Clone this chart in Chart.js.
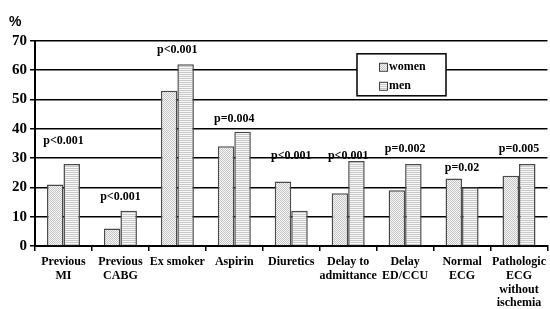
<!DOCTYPE html>
<html>
<head>
<meta charset="utf-8">
<script src="https://cdn.jsdelivr.net/npm/chart.js@4"></script>
<style>
  html, body { margin: 0; padding: 0; background: #fff; }
  #wrap { width: 550px; height: 309px; }
</style>
</head>
<body>
<div id="wrap"><canvas id="chart"></canvas></div>
<script>
// data
const categories = [
  ['Previous', 'MI'], ['Previous', 'CABG'], 'Ex smoker', 'Aspirin', 'Diuretics',
  ['Delay to', 'admittance'], ['Delay', 'ED/CCU'], ['Normal', 'ECG'],
  ['Pathologic', 'ECG', 'without', 'ischemia']
];
const women = [21, 6, 53, 34, 22, 18, 19, 23, 24];
const men = [28, 12, 62, 39, 12, 29, 28, 20, 28];
const pLabels = ['p<0.001', 'p<0.001', 'p<0.001', 'p=0.004', 'p<0.001', 'p<0.001', 'p=0.002', 'p=0.02', 'p=0.005'];
const pLabelAt = [36, 16.6, 66.8, 43.5, 30.8, 30.8, 33, 26.7, 33];
const yTicks = [0, 10, 20, 30, 40, 50, 60, 70];

const serif = '"Liberation Serif", "Times New Roman", serif';

// fill patterns
function dotPattern() {
  const c = document.createElement('canvas');
  c.width = 2; c.height = 2;
  const g = c.getContext('2d');
  g.fillStyle = '#f8f8f8';
  g.fillRect(0, 0, 2, 2);
  g.fillStyle = '#c4c4c4';
  g.fillRect(0, 0, 1, 1);
  g.fillRect(1, 1, 1, 1);
  return g.createPattern(c, 'repeat');
}
function linePattern() {
  const c = document.createElement('canvas');
  c.width = 2; c.height = 2;
  const g = c.getContext('2d');
  g.fillStyle = '#f8f8f8';
  g.fillRect(0, 0, 2, 2);
  g.fillStyle = '#c8c8c8';
  g.fillRect(0, 0, 2, 1);
  return g.createPattern(c, 'repeat');
}
const womenFill = dotPattern();
const menFill = linePattern();

// p-values over each pair, and the boxed legend
const notes = {
  id: 'notes',
  afterDatasetsDraw(chart) {
    const ctx = chart.ctx;
    const x = chart.scales.x, y = chart.scales.y;
    ctx.save();
    ctx.fillStyle = '#000';
    ctx.font = 'bold 12px ' + serif;
    ctx.textAlign = 'center';
    ctx.textBaseline = 'middle';
    pLabels.forEach((t, i) => {
      ctx.fillText(t, x.getPixelForValue(i), y.getPixelForValue(pLabelAt[i]));
    });

    // legend box
    const area = chart.chartArea;
    const bx = area.left + 322, by = area.top + 13, bw = 89, bh = 42;
    ctx.fillStyle = '#fff';
    ctx.fillRect(bx, by, bw, bh);
    ctx.strokeStyle = '#000';
    ctx.lineWidth = 1.5;
    ctx.strokeRect(bx, by, bw, bh);
    chart.data.datasets.forEach((ds, i) => {
      const sy = by + 9 + i * 19;
      ctx.fillStyle = ds.backgroundColor;
      ctx.fillRect(bx + 22, sy, 8, 8);
      ctx.strokeStyle = '#404040';
      ctx.lineWidth = 1;
      ctx.strokeRect(bx + 22.5, sy + 0.5, 8, 8);
      ctx.fillStyle = '#000';
      ctx.font = 'bold 12px ' + serif;
      ctx.textAlign = 'left';
      ctx.fillText(ds.label, bx + 32, sy + 4.5);
    });
    ctx.restore();
  }
};

new Chart(document.getElementById('chart'), {
  type: 'bar',
  data: {
    labels: categories,
    datasets: [
      {
        label: 'women',
        data: women,
        backgroundColor: womenFill,
        borderColor: '#4a4a4a',
        borderWidth: 1.5,
        categoryPercentage: 0.58,
        barPercentage: 1
      },
      {
        label: 'men',
        data: men,
        backgroundColor: menFill,
        borderColor: '#4a4a4a',
        borderWidth: 1.5,
        categoryPercentage: 0.58,
        barPercentage: 1
      }
    ]
  },
  options: {
    responsive: true,
    maintainAspectRatio: false,
    animation: false,
    layout: { padding: { left: 9, right: 0, top: 0, bottom: 0 } },
    plugins: {
      legend: { display: false },
      tooltip: { enabled: false },
      title: {
        display: true,
        text: '%',
        align: 'start',
        color: '#000',
        font: { family: 'Arial, "Liberation Sans", sans-serif', size: 14, weight: 'bold' },
        padding: { top: 14, bottom: 10 }
      }
    },
    scales: {
      x: {
        grid: {
          offset: true,
          drawOnChartArea: false,
          drawTicks: true,
          tickLength: 5,
          color: '#000',
          lineWidth: 1.5
        },
        border: { color: '#000', width: 2 },
        ticks: {
          color: '#000',
          autoSkip: false,
          maxRotation: 0,
          padding: 4,
          font: { family: serif, size: 12, weight: 'bold', lineHeight: 1.15 }
        },
        afterFit(scale) { scale.height = 63; }
      },
      y: {
        min: 0,
        max: 70,
        afterBuildTicks(scale) { scale.ticks = yTicks.map(v => ({ value: v })); },
        grid: { color: '#000', lineWidth: 1.5, tickLength: 5 },
        border: { color: '#000', width: 2 },
        ticks: {
          color: '#000',
          padding: 3,
          font: { family: serif, size: 15, weight: 'bold' }
        }
      }
    }
  },
  plugins: [notes]
});
</script>
</body>
</html>
